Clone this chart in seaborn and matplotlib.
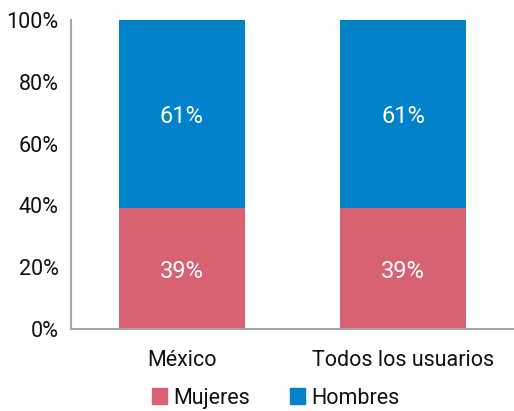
import matplotlib
matplotlib.use("Agg")
import matplotlib.pyplot as plt
import seaborn as sns
import pandas as pd
from matplotlib.patches import Patch

categories = ["México", "Todos los usuarios"]
mujeres = [39, 39]
hombres = [61, 61]
yticks = [0, 20, 40, 60, 80, 100]

sns.set_theme(style="white")
plt.rcParams['font.family'] = ['Roboto', 'DejaVu Sans']
plt.rcParams['text.color'] = "#111111"
plt.rcParams['xtick.color'] = "#111111"
plt.rcParams['ytick.color'] = "#111111"

c_muj = "#D96272"
c_hom = "#0282CB"

fig = plt.figure(figsize=(5.14, 4.11), dpi=100)
ax = fig.add_axes([71/514, 1 - 329/411, 443/514, 309/411])

df = pd.DataFrame({"cat": categories, "Mujeres": mujeres, "Hombres": hombres})
df["total"] = df["Mujeres"] + df["Hombres"]

sns.barplot(data=df, x="cat", y="total", color=c_hom, saturation=1, width=0.57, ax=ax)
sns.barplot(data=df, x="cat", y="Mujeres", color=c_muj, saturation=1, width=0.57, ax=ax)
for p in ax.patches:
    p.set_edgecolor("none")

for i, (m, h) in enumerate(zip(mujeres, hombres)):
    ax.text(i, m / 2, f"{m}%", ha="center", va="center_baseline", color="white",
            fontsize=17)
    ax.text(i, m + h / 2, f"{h}%", ha="center", va="center_baseline", color="white",
            fontsize=17)

ax.set_xlim(-0.5, 1.5)
ax.set_ylim(0, 100)
ax.set_yticks(yticks)
ax.set_yticklabels([f"{t}%" for t in yticks], fontsize=15.5)
ax.tick_params(axis="x", labelsize=15.5, pad=15, length=0, labelcolor="#111111")
ax.tick_params(axis="y", length=0, pad=9, labelcolor="#111111")
ax.set_xlabel("")
ax.set_ylabel("")
for s in ["top", "right"]:
    ax.spines[s].set_visible(False)
for s in ["left", "bottom"]:
    ax.spines[s].set_color("#A6A6A6")
    ax.spines[s].set_linewidth(1.5)

handles = [Patch(color=c_muj, label="Mujeres"), Patch(color=c_hom, label="Hombres")]
fig.legend(handles=handles, loc="center", bbox_to_anchor=(0.536, 1 - 398/411), ncol=2,
           frameon=False, fontsize=15.5, handlelength=0.7, handleheight=0.7,
           handletextpad=0.28, columnspacing=1.86, labelcolor="#111111")

fig.savefig("out.png", dpi=100)
